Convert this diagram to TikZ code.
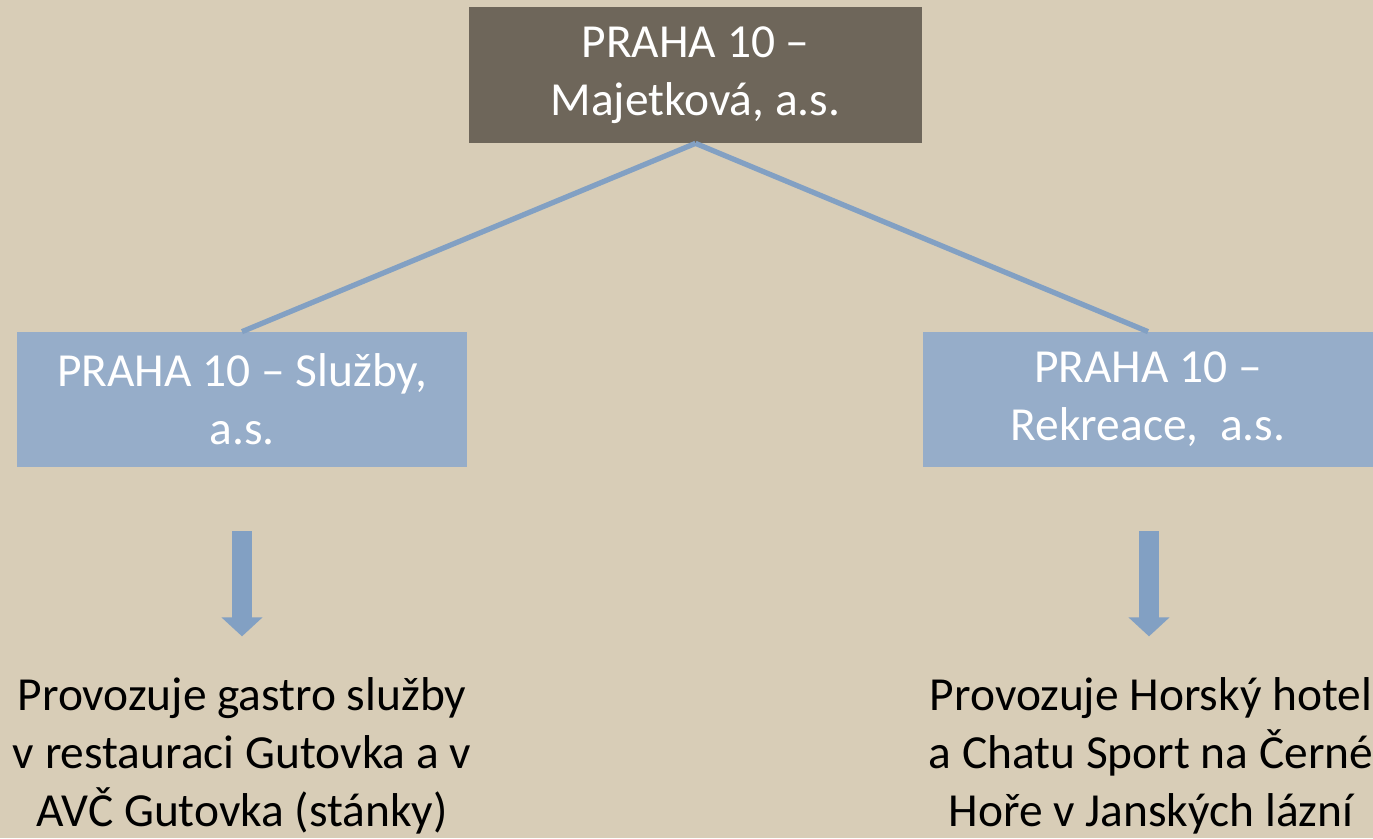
\documentclass[tikz,border=0pt]{standalone}
\usepackage{fontspec}
\setmainfont{Carlito}
\usetikzlibrary{arrows.meta, positioning}
\definecolor{paper}{RGB}{216,205,183}
\definecolor{darkbox}{RGB}{110,102,90}
\definecolor{bluebox}{RGB}{150,173,201}
\definecolor{linkblue}{RGB}{130,160,195}

\begin{document}
\begin{tikzpicture}[
    every node/.style={font=\fontsize{27}{33}\selectfont, align=center, inner sep=0pt},
    headbox/.style={fill=darkbox, text=white, minimum width=9.06cm, minimum height=2.72cm},
    firmbox/.style={fill=bluebox, text=white, minimum width=9.0cm, minimum height=2.7cm},
    link/.style={draw=linkblue, line width=3pt},
    downarrow/.style={linkblue, line width=0.4cm, -{Triangle[length=0.38cm, width=0.8cm]}},
    ]
    \fill[paper] (0,0) rectangle (27.46,-16.76);
    \useasboundingbox (0,0) rectangle (27.46,-16.76);

    \node[headbox] (majetkova) at (13.91,-1.5) {PRAHA 10 –\\Majetková, a.s.};
    \node[firmbox] (sluzby) at (4.84,-7.99) {PRAHA 10 – Služby,\\a.s.};
    \node[firmbox] (rekreace) at (22.96,-7.99) {PRAHA 10 –\\Rekreace, \ a.s.};

    \draw[link] (majetkova.south) -- (sluzby.north);
    \draw[link] (majetkova.south) -- (rekreace.north);

    \node (gastro) at (4.84,-15.12) {Provozuje gastro služby\\v restauraci Gutovka a v\\AVČ Gutovka (stánky)};
    \node (horsky) at (23.02,-15.12) {Provozuje Horský hotel\\a Chatu Sport na Černé\\Hoře v Janských lázní};

    \coordinate (sluzbytop) at ([yshift=-1.28cm]sluzby.south);
    \coordinate (sluzbytip) at ([yshift=-3.38cm]sluzby.south);
    \coordinate (rekreacetop) at ([xshift=0.02cm, yshift=-1.28cm]rekreace.south);
    \coordinate (rekreacetip) at ([xshift=0.02cm, yshift=-3.38cm]rekreace.south);
    \draw[downarrow] (sluzbytop) -- (sluzbytip);
    \draw[downarrow] (rekreacetop) -- (rekreacetip);
\end{tikzpicture}
\end{document}
